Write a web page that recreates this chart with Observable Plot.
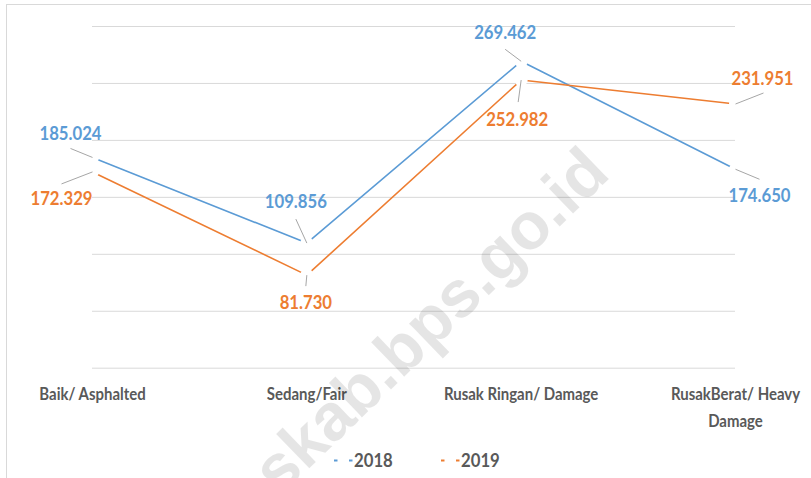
<!DOCTYPE html>
<html><head><meta charset="utf-8">
<script src="https://cdn.jsdelivr.net/npm/d3@7"></script>
<script src="https://cdn.jsdelivr.net/npm/@observablehq/plot@0.6"></script>
<style>
html,body{margin:0;padding:0;background:#fff;overflow:hidden;}
#wrap{position:relative;width:811px;height:478px;overflow:hidden;background:#fff;}
#border{position:absolute;left:6px;top:4px;width:1000px;height:1000px;border-top:1px solid #d9d9d9;border-left:1px solid #d9d9d9;}
#chart{position:absolute;left:0;top:0;}
#legend{position:absolute;left:0;top:445px;width:811px;height:30px;font-family:Lato,sans-serif;font-weight:bold;font-size:19px;color:#595959;}
#legend .item{position:absolute;top:0;height:30px;line-height:30px;white-space:nowrap;transform:scaleX(0.88);transform-origin:0 50%;}
#legend svg{position:absolute;left:0;top:0;}
#wm{position:absolute;left:0;top:0;pointer-events:none;}
</style></head>
<body><div id="wrap"><div id="border"></div><div id="chart"></div><div id="legend"></div><svg id="wm" width="811" height="478"></svg></div>
<script>
const categories = ["Baik/ Asphalted", "Sedang/Fair", "Rusak Ringan/ Damage", "RusakBerat/ Heavy\nDamage"];
const values2018 = [185.024, 109.856, 269.462, 174.650];
const values2019 = [172.329, 81.730, 252.982, 231.951];
const seriesNames = ["2018", "2019"];
const gridValues = [0, 50, 100, 150, 200, 250, 300];

// layout (pixels relative to each point): label centre and leader-line end
const labelOffsets2018 = [[-22, -24], [-11, -41], [-16, -28], [24, 27]];
const leaderEnds2018 = [[-22, -9], [-11, -24], [-16, -12], [24, 10]];
const labelOffsets2019 = [[-31, 27], [-1, 28], [-4, 40], [27, -25]];
const leaderEnds2019 = [[-31, 12], [-1, 11], [-3, 22], [28, -11]];
const colors = {"2018": "#5B9BD5", "2019": "#ED7D31"};

const W = 811, H = 440, mL = 92, mR = 76, mT = 26, mB = 72.3;
const font = 'Lato, sans-serif';
const xs = Plot.scale({x: {type: "linear", domain: [0, 3], range: [mL, W - mR]}});
const ys = Plot.scale({y: {type: "linear", domain: [0, 300], range: [H - mB, mT]}});

function rows(name, values, lab, lead) {
  return values.map((v, i) => {
    const px = xs.apply(i), py = ys.apply(v);
    return {
      i, value: v, series: name, text: v.toFixed(3),
      lx: xs.invert(px + lab[i][0]), ly: ys.invert(py + lab[i][1]),
      ex: xs.invert(px + lead[i][0]), ey: ys.invert(py + lead[i][1])
    };
  });
}
const r18 = rows("2018", values2018, labelOffsets2018, leaderEnds2018);
const r19 = rows("2019", values2019, labelOffsets2019, leaderEnds2019);

const marks = [Plot.ruleY(gridValues, {y: d => d, stroke: "#d9d9d9", strokeWidth: 1})];
for (const r of [r18, r19]) {
  marks.push(Plot.line(r, {x: "i", y: "value", stroke: colors[r[0].series], strokeWidth: 1.6}));
}
for (const r of [r18, r19]) {
  marks.push(Plot.dot(r, {x: "i", y: "value", r: 6.5, fill: "white", stroke: "none"}));
}
for (const r of [r18, r19]) {
  marks.push(Plot.link(r, {x1: "i", y1: "value", x2: "ex", y2: "ey", stroke: "#a6a6a6", strokeWidth: 1}));
  marks.push(Plot.text(r, {x: "lx", y: "ly", text: "text", fill: colors[r[0].series], fontSize: 19, fontWeight: "bold", lineAnchor: "middle"}));
}
marks.push(Plot.text(categories, {x: (d, i) => i, y: () => 0, text: d => d, dy: 12, lineAnchor: "top", lineHeight: 1.6, fill: "#595959", fontSize: 17, fontWeight: "bold"}));

const chart = Plot.plot({
  width: W, height: H,
  marginLeft: mL, marginRight: mR, marginTop: mT, marginBottom: mB,
  x: {type: "linear", domain: [0, 3], axis: null},
  y: {type: "linear", domain: [0, 300], axis: null},
  style: {fontFamily: font, background: "transparent", overflow: "visible"},
  marks
});
document.getElementById("chart").appendChild(chart);
// narrow the glyphs horizontally (Calibri-like proportions)
d3.select(chart).selectAll('g[aria-label="text"] text').each(function() {
  const t = this.getAttribute("transform") || "";
  this.setAttribute("transform", t + " scale(0.88,1)");
});

// legend
const legend = d3.select("#legend");
const legendPos = [[333, 354], [440, 461]];
seriesNames.forEach((name, k) => {
  const [kx, tx] = legendPos[k];
  const key = legend.append("svg").attr("width", 22).attr("height", 30).style("left", kx + "px");
  key.append("line").attr("x1", 1).attr("x2", 4.5).attr("y1", 15.5).attr("y2", 15.5).attr("stroke", colors[name]).attr("stroke-width", 2);
  key.append("line").attr("x1", 16).attr("x2", 19.5).attr("y1", 15.5).attr("y2", 15.5).attr("stroke", colors[name]).attr("stroke-width", 2);
  legend.append("div").attr("class", "item").style("left", tx + "px").text(name);
});

// watermark
d3.select("#wm").append("text")
  .attr("transform", "translate(612,176) rotate(-44)")
  .attr("text-anchor", "end")
  .attr("font-family", '"Liberation Sans","Arial",sans-serif')
  .attr("font-weight", "bold")
  .attr("font-size", 66)
  .attr("fill", "#000").attr("fill-opacity", 0.1)
  .text("musirawaskab.bps.go.id");
</script>
</body></html>
